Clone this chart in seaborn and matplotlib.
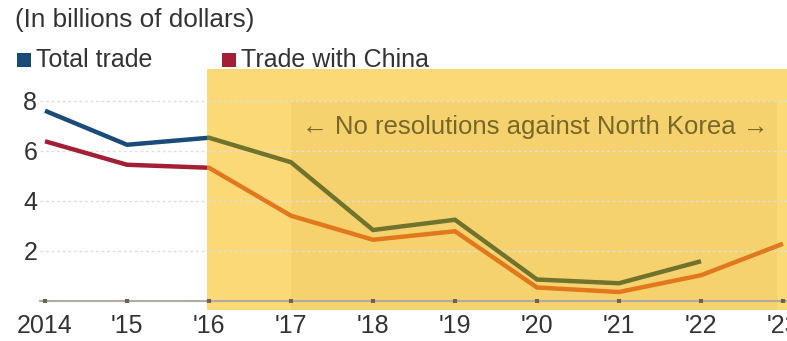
import matplotlib
matplotlib.use("Agg")
import matplotlib.pyplot as plt
from matplotlib.patches import Rectangle
import numpy as np
import pandas as pd
import seaborn as sns

# North Korea trade, billions of dollars
years = [2014, 2015, 2016, 2017, 2018, 2019, 2020, 2021, 2022, 2023]
year_labels = ["2014", "'15", "'16", "'17", "'18", "'19", "'20", "'21", "'22", "'23"]
total_trade = [7.61, 6.25, 6.53, 5.55, 2.84, 3.25, 0.86, 0.71, 1.59, None]
china_trade = [6.39, 5.45, 5.33, 3.41, 2.45, 2.79, 0.54, 0.36, 1.03, 2.29]
y_ticks = [2, 4, 6, 8]

# Period with no UN resolutions starts in 2016; slightly deeper band from 2017
period_start = 2015.975
deep_start = 2017.0
deep_end = 2022.93

BLUE = "#1b4b78"
RED = "#a31f35"
OLIVE = "#6f732c"
ORANGE = "#e2781d"
BAND = "#fcd977"
BAND_DEEP = "#f6d26e"
TEXT = "#333333"
FS = 18

df = pd.DataFrame({"year": years, "Total trade": total_trade, "Trade with China": china_trade})

sns.set_theme(style="white")
plt.rcParams["font.family"] = ["Liberation Sans", "DejaVu Sans"]

fig = plt.figure(figsize=(7.87, 3.41), dpi=100)
ax = fig.add_axes([40 / 787, 31 / 341, 747 / 787, 241 / 341])
ax.set_axisbelow(False)

x_lo, x_hi = 2014 - 5 / 82, 2014 + 742 / 82
y_lo, y_hi = -0.36, 9.28
ax.set_xlim(x_lo, x_hi)
ax.set_ylim(y_lo, y_hi)

# shaded period
ax.add_patch(Rectangle((period_start, y_lo), x_hi - period_start, y_hi - y_lo,
                       facecolor=BAND, edgecolor="none", zorder=1))
ax.add_patch(Rectangle((deep_start, y_lo), deep_end - deep_start, 8.0 - y_lo,
                       facecolor=BAND_DEEP, edgecolor="none", zorder=1.1))

# gridlines
for yt in y_ticks:
    ax.axhline(yt, color="#dedede", lw=1.0, ls=(0, (2, 2)), zorder=1.5)


def draw_series(col, color_out, color_in):
    d = df.dropna(subset=[col])
    for color, x0, x1 in [(color_out, x_lo - 1, period_start), (color_in, period_start, x_hi + 1)]:
        sns.lineplot(data=d, x="year", y=col, ax=ax, color=color, lw=3.2,
                     solid_joinstyle="miter", solid_capstyle="butt", zorder=3)
        line = ax.lines[-1]
        clip = Rectangle((x0, -10), x1 - x0, 30, transform=ax.transData)
        line.set_clip_path(clip)


draw_series("Total trade", BLUE, OLIVE)
draw_series("Trade with China", RED, ORANGE)

ax.text(2019.98, 6.95, "\u2190 No resolutions against North Korea \u2192",
        ha="center", va="center", fontsize=18.5, color="#77682a", zorder=4)

# axes styling
for s in ["top", "right", "left"]:
    ax.spines[s].set_visible(False)
ax.spines["bottom"].set_position(("data", 0))
ax.spines["bottom"].set_color("#b0aca0")
ax.spines["bottom"].set_linewidth(1.5)
ax.spines["bottom"].set_zorder(2)
ax.xaxis.set_zorder(2.2)

ax.set_xticks(years)
ax.set_xticklabels(year_labels)
ax.set_yticks(y_ticks)
ax.set_yticklabels([str(v) for v in y_ticks])
ax.tick_params(axis="x", bottom=True, direction="inout", length=3, width=3,
               color="#6a6450", pad=8, labelsize=FS, labelcolor=TEXT)
ax.tick_params(axis="y", left=False, length=0, pad=2, labelsize=FS, labelcolor=TEXT)
ax.set_xlabel("")
ax.set_ylabel("")

# header and legend
fig.text(15 / 787, 1 - 20 / 341, "(In billions of dollars)", fontsize=18.8,
         color=TEXT, ha="left", va="center")
for x0, color, label in [(17, BLUE, "Total trade"), (222, RED, "Trade with China")]:
    fig.patches.append(Rectangle((x0 / 787, 1 - 67 / 341), 14 / 787, 14 / 341,
                                 transform=fig.transFigure, facecolor=color,
                                 edgecolor="none"))
    fig.text((x0 + 19) / 787, 1 - 60 / 341, label, fontsize=FS, color=TEXT,
             ha="left", va="center")

fig.savefig("out.png", dpi=100)
